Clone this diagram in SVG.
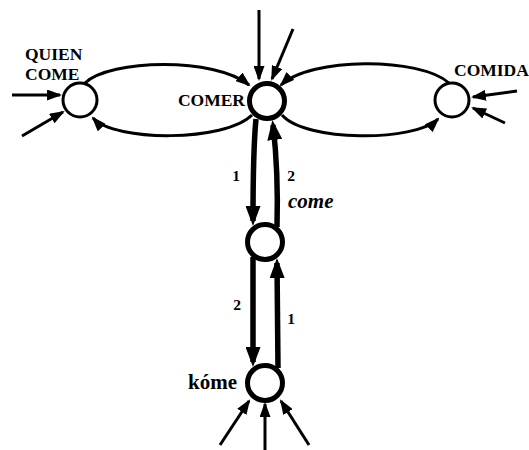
<svg xmlns="http://www.w3.org/2000/svg" width="529" height="450" viewBox="0 0 529 450">
<style>
.t{font-family:"Liberation Serif","Times New Roman",serif;font-weight:bold;fill:#000}
.n{fill:#fff;stroke:#000}
.e{fill:none;stroke:#000;stroke-width:3}
.k{fill:none;stroke:#000;stroke-width:5.5}
</style>
<defs>
<marker id="a" viewBox="0 0 15 11" refX="13" refY="5.5" markerWidth="15" markerHeight="11" markerUnits="userSpaceOnUse" orient="auto"><path d="M0,0 L15,5.5 L0,11 z"/></marker>
<marker id="b" viewBox="0 0 20 15" refX="15" refY="7.5" markerWidth="20" markerHeight="15" markerUnits="userSpaceOnUse" orient="auto"><path d="M0,0 L20,7.5 L0,15 z"/></marker>
</defs>
<rect width="529" height="450" fill="#fff"/>
<g id="connectors">
<path class="e" marker-end="url(#a)" d="M12 95 L60 95"/>
<path class="e" marker-end="url(#a)" d="M22 136 L63 112"/>
<path class="e" marker-end="url(#a)" d="M259 10 L259 79"/>
<path class="e" marker-end="url(#a)" d="M293 29 L272 79"/>
<path class="e" marker-end="url(#a)" d="M517 91 L473 97"/>
<path class="e" marker-end="url(#a)" d="M505 123 L473 108"/>
<path class="e" marker-end="url(#a)" d="M220 445 L249 401"/>
<path class="e" marker-end="url(#a)" d="M265 450 L265 404"/>
<path class="e" marker-end="url(#a)" d="M309 445 L281 401"/>
<path class="e" marker-end="url(#a)" d="M85 83 C110 59 215 57 249 85"/>
<path class="e" marker-end="url(#a)" d="M252 115 C225 142 115 142 93 118"/>
<path class="e" marker-end="url(#a)" d="M449 83 C420 57 310 57 281 85"/>
<path class="e" marker-end="url(#a)" d="M282 115 C305 142 415 142 438 119"/>
<path class="k" marker-end="url(#b)" d="M256 119 C253 150 253 190 253 221"/>
<path class="k" marker-end="url(#b)" d="M277 227 C278 190 276 150 273 125"/>
<path class="k" marker-end="url(#b)" d="M253 257 L253 362"/>
<path class="k" marker-end="url(#b)" d="M278 368 L277 263"/>
</g>
<g id="quien-come"><circle class="n" cx="80" cy="100" r="17" stroke-width="3"/><text class="t" x="25" y="60" font-size="17.5">QUIEN</text><text class="t" x="25" y="80" font-size="17.5">COME</text></g>
<g id="comer"><circle class="n" cx="267" cy="101" r="17.5" stroke-width="5"/><text class="t" x="245" y="106" font-size="17.5" text-anchor="end">COMER</text></g>
<g id="comida"><circle class="n" cx="452" cy="100" r="17" stroke-width="3"/><text class="t" x="454" y="76" font-size="17.5">COMIDA</text></g>
<g id="come"><circle class="n" cx="265" cy="242" r="17.5" stroke-width="5"/><text class="t" x="288" y="208" font-size="21" font-style="italic">come</text></g>
<g id="kome"><circle class="n" cx="265" cy="383" r="17.5" stroke-width="5"/><text class="t" x="188" y="389" font-size="21">kóme</text></g>
<g id="labels">
<text class="t" x="236" y="181" font-size="15.5" text-anchor="middle">1</text>
<text class="t" x="291" y="181" font-size="15.5" text-anchor="middle">2</text>
<text class="t" x="237" y="310" font-size="15.5" text-anchor="middle">2</text>
<text class="t" x="291" y="324" font-size="15.5" text-anchor="middle">1</text>
</g>
</svg>
